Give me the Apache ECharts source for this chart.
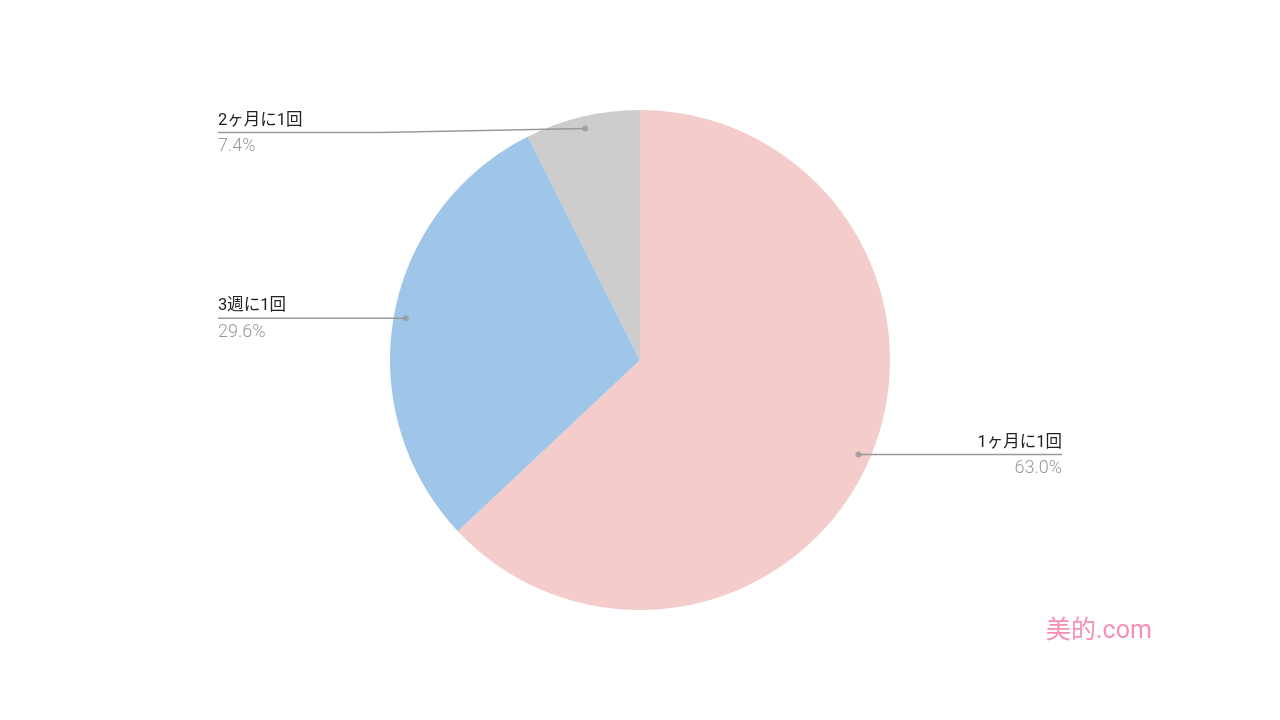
<!DOCTYPE html>
<html><head><meta charset="utf-8">
<script src="https://cdn.jsdelivr.net/npm/echarts@6/dist/echarts.min.js"></script>
<style>html,body{margin:0;padding:0;background:#fff}#c{width:1280px;height:720px}</style>
</head><body><div id="c"></div>
<script>
var categories = ['1ヶ月に1回', '3週に1回', '2ヶ月に1回'];
var values = [63.0, 29.6, 7.4];
var colors = ['#f4cccc', '#9fc5e8', '#cccccc'];

var CX = 640, CY = 360, R = 250, DOT_R = 238;
var total = values.reduce(function (a, b) { return a + b; }, 0);
var mids = [];
var acc = 0;
values.forEach(function (v) { mids.push(acc + v / 2); acc += v; });

function dotPos(i) {
  var a = mids[i] / total * 2 * Math.PI;
  return [CX + DOT_R * Math.sin(a), CY - DOT_R * Math.cos(a)];
}

var font = 'Roboto, "Noto Sans CJK JP", Arial, sans-serif';
var chart = echarts.init(document.getElementById('c'));
chart.setOption({
  backgroundColor: '#ffffff',
  animation: false,
  polar: { center: [CX, CY], radius: R },
  angleAxis: { type: 'value', min: 0, max: total, startAngle: 90, clockwise: true, show: false },
  radiusAxis: { type: 'value', min: 0, max: R, show: false },
  graphic: [{
    type: 'text', left: 1046, top: 619, z: 100,
    style: { text: '美的.com', fill: '#f78fb3', font: '25px ' + font }
  }],
  series: [{
    type: 'pie',
    z: 1,
    center: [CX, CY],
    radius: R,
    startAngle: 90,
    clockwise: true,
    silent: true,
    label: { show: false },
    labelLine: { show: false },
    data: categories.map(function (c, i) {
      return { name: c, value: values[i], itemStyle: { color: colors[i] } };
    })
  }, {
    type: 'pie',
    z: 5,
    center: [CX, CY],
    radius: R,
    startAngle: 90,
    clockwise: true,
    silent: true,
    itemStyle: { color: 'rgba(0,0,0,0)' },
    data: categories.map(function (c, i) {
      return { name: c, value: values[i] };
    }),
    label: {
      show: true,
      position: 'outside',
      formatter: function (p) { return '{n|' + p.name + '}\n{p|' + values[p.dataIndex].toFixed(1) + '%}'; },
      rich: {
        n: { fontFamily: font, fontSize: 16.5, color: '#222222', lineHeight: 26 },
        p: { fontFamily: font, fontSize: 18, fontWeight: 300, color: '#999999', lineHeight: 26 }
      }
    },
    labelLine: { show: true, showAbove: true, lineStyle: { color: '#999999', width: 1.5 } },
    labelLayout: function (params) {
      var i = params.dataIndex;
      var d = dotPos(i);
      var left = d[0] < CX;
      var ly = d[1];
      if (i === 2) ly = d[1] + 4;
      var edgeX = left ? 218 : 1062;
      var elbowX = left ? Math.min(d[0], 380) : Math.max(d[0], 860);
      return {
        x: edgeX, y: ly + 1,
        align: left ? 'left' : 'right',
        verticalAlign: 'middle',
        labelLinePoints: [d, [elbowX, ly], [edgeX, ly]]
      };
    }
  }, {
    type: 'scatter',
    coordinateSystem: 'polar',
    symbolSize: 6,
    z: 10,
    itemStyle: { color: '#999999' },
    silent: true,
    data: mids.map(function (m) { return [DOT_R, m]; })
  }]
});
</script></body></html>
